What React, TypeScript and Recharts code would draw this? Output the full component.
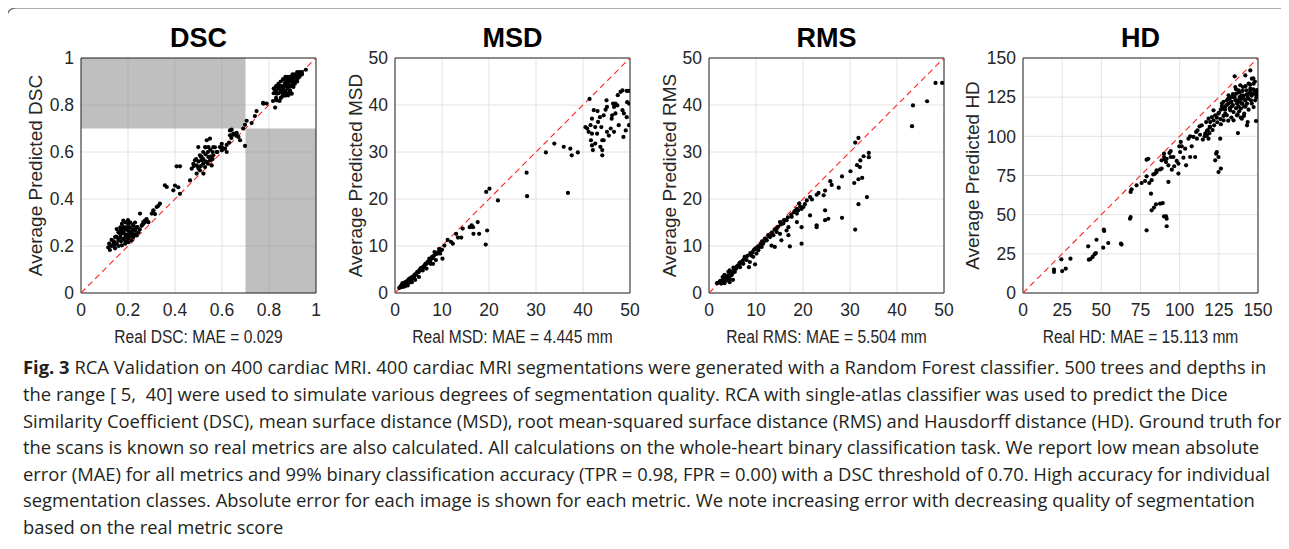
import React from "react";
import {
  CartesianGrid,
  ReferenceArea,
  Scatter,
  ScatterChart,
  XAxis,
  YAxis,
} from "recharts";

type Pt = [number, number];

// [real, average predicted]
const DSC_POINTS: Pt[] = [
  [0.957, 0.95], [0.776, 0.806], [0.79, 0.806], [0.826, 0.789], [0.833, 0.82], [0.854, 0.834],
  [0.826, 0.862], [0.847, 0.877], [0.868, 0.891], [0.875, 0.905], [0.889, 0.912], [0.904, 0.919],
  [0.925, 0.926], [0.939, 0.933], [0.889, 0.862], [0.904, 0.877], [0.868, 0.855], [0.882, 0.841],
  [0.897, 0.848], [0.854, 0.855], [0.833, 0.848], [0.86, 0.843], [0.889, 0.85], [0.817, 0.817],
  [0.845, 0.817], [0.775, 0.809], [0.747, 0.774], [0.74, 0.753], [0.726, 0.723], [0.705, 0.733],
  [0.698, 0.716], [0.69, 0.7], [0.662, 0.681], [0.648, 0.674], [0.641, 0.695], [0.698, 0.626],
  [0.83, 0.86], [0.84, 0.87], [0.85, 0.86], [0.86, 0.88], [0.86, 0.87], [0.87, 0.88], [0.87, 0.9],
  [0.88, 0.89], [0.88, 0.91], [0.89, 0.9], [0.89, 0.92], [0.9, 0.91], [0.9, 0.9], [0.91, 0.92],
  [0.91, 0.9], [0.92, 0.92], [0.92, 0.91], [0.93, 0.92], [0.93, 0.94], [0.94, 0.93], [0.9, 0.93],
  [0.88, 0.92], [0.87, 0.86], [0.85, 0.88], [0.84, 0.85], [0.86, 0.85], [0.88, 0.87], [0.89, 0.88],
  [0.91, 0.93], [0.92, 0.94], [0.9, 0.89], [0.87, 0.84], [0.88, 0.85], [0.86, 0.84], [0.85, 0.83],
  [0.91, 0.89], [0.89, 0.86], [0.9, 0.88], [0.84, 0.89], [0.83, 0.88], [0.82, 0.87], [0.85, 0.9],
  [0.86, 0.91], [0.87, 0.92], [0.93, 0.93], [0.94, 0.94], [0.92, 0.9], [0.83, 0.83], [0.82, 0.85],
  [0.88, 0.88],
  [0.499, 0.621], [0.506, 0.586], [0.52, 0.6], [0.535, 0.65], [0.549, 0.657], [0.542, 0.621],
  [0.513, 0.565], [0.492, 0.543], [0.478, 0.55], [0.471, 0.529], [0.464, 0.479], [0.506, 0.522],
  [0.528, 0.536], [0.535, 0.557], [0.549, 0.565], [0.563, 0.586], [0.556, 0.543], [0.521, 0.508],
  [0.542, 0.579], [0.513, 0.579], [0.499, 0.536], [0.492, 0.508], [0.577, 0.6], [0.591, 0.621],
  [0.599, 0.635], [0.613, 0.614], [0.62, 0.6], [0.634, 0.671], [0.648, 0.678], [0.662, 0.678],
  [0.67, 0.664], [0.634, 0.692], [0.677, 0.65], [0.599, 0.607], [0.563, 0.621], [0.528, 0.621],
  [0.485, 0.565], [0.5, 0.56], [0.51, 0.58], [0.52, 0.57], [0.53, 0.59], [0.53, 0.56], [0.54, 0.6],
  [0.55, 0.58], [0.55, 0.61], [0.56, 0.6], [0.57, 0.62], [0.52, 0.55], [0.51, 0.54], [0.5, 0.53],
  [0.54, 0.55], [0.56, 0.57], [0.58, 0.6], [0.6, 0.62], [0.62, 0.63], [0.63, 0.64], [0.64, 0.66],
  [0.66, 0.67], [0.48, 0.54], [0.49, 0.57], [0.53, 0.62],
  [0.407, 0.539], [0.421, 0.539], [0.393, 0.437], [0.4, 0.457], [0.414, 0.45], [0.421, 0.422],
  [0.357, 0.458], [0.365, 0.451], [0.336, 0.38], [0.322, 0.366], [0.301, 0.338], [0.308, 0.352],
  [0.251, 0.338], [0.279, 0.309], [0.287, 0.302], [0.265, 0.302], [0.329, 0.371], [0.315, 0.336],
  [0.308, 0.35],
  [0.116, 0.194], [0.123, 0.183], [0.13, 0.226], [0.145, 0.238], [0.152, 0.21], [0.16, 0.258],
  [0.167, 0.279], [0.174, 0.294], [0.181, 0.272], [0.188, 0.25], [0.181, 0.23], [0.167, 0.238],
  [0.16, 0.224], [0.194, 0.238], [0.201, 0.265], [0.208, 0.279], [0.215, 0.258], [0.223, 0.286],
  [0.23, 0.265], [0.237, 0.279], [0.244, 0.258], [0.194, 0.301], [0.18, 0.308], [0.272, 0.308],
  [0.286, 0.301], [0.265, 0.294], [0.279, 0.315], [0.215, 0.224], [0.201, 0.216], [0.188, 0.21],
  [0.174, 0.203], [0.145, 0.19], [0.138, 0.21], [0.223, 0.238], [0.167, 0.252], [0.174, 0.258],
  [0.208, 0.245], [0.188, 0.279], [0.201, 0.294], [0.152, 0.272], [0.237, 0.245], [0.258, 0.286],
  [0.14, 0.22], [0.15, 0.24], [0.16, 0.23], [0.16, 0.26], [0.17, 0.22], [0.17, 0.25], [0.18, 0.23],
  [0.18, 0.26], [0.18, 0.28], [0.19, 0.24], [0.19, 0.22], [0.19, 0.27], [0.2, 0.25], [0.2, 0.23],
  [0.2, 0.28], [0.21, 0.26], [0.21, 0.24], [0.22, 0.27], [0.22, 0.25], [0.23, 0.27], [0.23, 0.25],
  [0.24, 0.28], [0.25, 0.27], [0.26, 0.29], [0.17, 0.27], [0.15, 0.21], [0.16, 0.2], [0.14, 0.2],
  [0.13, 0.2], [0.12, 0.21], [0.21, 0.3], [0.22, 0.29], [0.19, 0.3], [0.2, 0.31], [0.23, 0.3],
  [0.27, 0.3],
];

const MSD_POINTS: Pt[] = [
  [41.4, 41.3], [40.5, 35.3], [40.9, 35], [41.2, 34.3], [41.6, 35.7], [41.9, 37.1], [42.3, 38.9],
  [41.7, 32.5], [41.9, 31.4], [42.6, 31.8], [42.1, 30.4], [43, 33.9], [43.1, 38.7], [43.6, 37.4],
  [43.9, 35.3], [44.1, 32.5], [43.7, 31.1], [44.4, 37.8], [44.8, 39], [45, 41], [45.1, 39.6],
  [44.1, 29.3], [44.1, 30.4], [45.5, 33.5], [45.9, 35], [46.2, 37.8], [46.4, 40.3], [46.6, 39.6],
  [46.9, 38.2], [46.1, 37.1], [46.9, 40.3], [47.3, 39.9], [47.4, 42.1], [48, 42.8], [48.4, 43.1],
  [48.4, 38.9], [48.7, 38.2], [48.6, 33.2], [47.6, 35.7], [49.1, 34.6], [49.3, 37.4], [49.4, 40.6],
  [49.3, 43], [49.8, 43], [49.8, 40.3], [49.8, 35.7], [45.1, 34.3], [46.6, 34.3], [44.4, 32.5],
  [43.2, 36.4], [42.6, 35.3], [41.9, 33.9],
  [33.9, 31.8], [32.1, 29.9], [35.9, 31.1], [37.3, 30.7], [37.6, 29.3], [38.9, 29.9], [36.8, 21.3],
  [28, 25.6], [28.1, 20.6], [19.4, 21.5], [20.1, 22.2], [21.9, 19.7], [19.6, 13.3], [19.3, 10.3],
  [17.6, 15.1], [16.6, 14], [16.3, 14.4], [15.9, 14], [16.7, 12.6], [17.9, 12.6], [14.4, 13.7],
  [13, 12.6], [13.4, 11.8], [14.1, 11.8], [11.9, 10.9], [11.2, 11.3], [12.3, 10.5], [10.5, 10.1],
  [10, 9.2], [10.1, 7.3], [9.4, 9.4], [9.6, 8.4], [8.4, 8.7], [7.9, 7.7], [8.1, 6.2], [7.3, 7.3],
  [6.6, 6.2], [6.2, 5.5], [5.5, 5.2], [5.1, 4.7], [4.4, 4.1], [3.7, 3.4], [3, 2.7], [2.3, 2.1],
  [1.6, 1.6], [1.2, 1.4], [1.9, 2], [2.6, 2.3], [3.1, 3], [4.1, 3.5], [4.8, 4.5], [5.9, 4.8],
  [6.7, 5.2], [7.6, 6.2], [8.7, 7], [0.9, 1.1], [1.4, 1.3], [2.1, 1.4], [2.7, 1.6], [3.6, 2.3],
  [4.3, 2.8], [5.1, 3.4], [1.6, 2.1],
  [1.3, 1.5], [1.5, 1.8], [1.7, 1.5], [1.8, 2], [2, 1.7], [2.2, 2.3], [2.4, 1.9], [2.5, 2.5],
  [2.8, 2.6], [3, 2.2], [3.2, 3.1], [3.4, 2.8], [3.6, 3.4], [3.9, 3.2], [4.1, 3.8], [4.5, 3.9],
  [4.7, 4.4], [5, 4.4], [5.3, 5], [5.6, 4.9], [6, 5.6], [6.3, 5.9], [6.8, 6.3], [7, 6.7], [7.5, 6.9],
  [8, 7.4], [8.3, 7.9], [8.9, 8.3], [9.2, 8.7], [9.8, 9.1], [1.1, 1.2], [1.6, 1.3], [2.1, 1.9],
  [2.9, 2.9], [3.3, 2.5], [2.6, 2.1], [1.9, 1.6], [4, 3.4], [5.5, 5.3], [6.5, 6.2],
];

const RMS_POINTS: Pt[] = [
  [49.6, 44.7], [48.2, 44.7], [46.4, 40.8], [43.4, 39.9], [43.2, 35.5], [34, 29.8], [34, 28.9],
  [32.9, 29.1], [32.2, 28.2], [31.8, 33], [31.1, 32], [31.5, 27.2], [32.1, 26.8], [32.6, 24.5],
  [31.8, 24.2], [30.9, 23.4], [30.1, 25.9], [28.3, 24.8], [27.6, 22.4], [26.1, 23], [25.8, 23.8],
  [24.7, 21.8], [24.4, 20.8], [23.3, 21.3], [22.9, 20.9], [21.5, 20.4], [21.9, 19.9], [20.8, 19.7],
  [20.1, 18.3], [19.7, 17.9], [19, 17.6], [18.7, 16.9], [19.2, 19.1], [31.8, 18.9], [33.6, 20.4],
  [31.1, 13.5], [28.3, 16], [25.4, 15.8], [24.7, 17.6], [24.7, 15.5], [22.9, 14.4], [22.9, 14],
  [21.5, 16.5], [19.7, 10.5], [19.7, 14], [18.7, 15.1], [17.2, 9.9], [16.9, 12.3], [16.5, 13.3],
  [16.9, 14], [15.8, 14.8], [16.5, 15.5], [15.4, 11.2], [14, 9.8], [13.3, 10.1], [15.1, 12.6],
  [14.4, 13], [13.7, 12.3], [13, 11.9], [12.3, 11.2], [11.5, 10.5], [10.8, 9.8], [10.1, 9.4],
  [9.8, 6.1], [8.5, 5.5], [8.7, 6.6], [8, 7], [7.3, 6.2], [6.6, 5.5], [5.8, 5.2], [5.1, 4.5],
  [4.4, 4.1], [3.7, 3.4], [3, 2.7], [2.3, 2.3], [1.7, 2.1], [3.7, 2.7], [4.4, 3], [4.8, 3.8],
  [5.5, 4.5], [4.1, 4.5], [3.3, 3.8], [6.6, 6.2], [7.6, 7.7], [9, 8], [10.5, 9.1], [11.2, 9.8],
  [11.9, 11.6], [12.6, 12.3], [13.3, 12.6], [14.4, 13.7], [15.1, 15.1], [16, 15.5], [17.6, 16.2],
  [18.1, 17.2], [18.7, 17.9], [19.4, 18.4], [20.4, 18.9], [10.1, 8.4], [9.4, 7.7], [2.6, 2],
  [3.3, 2.1], [5.1, 2.8], [4.4, 2.3],
  [2, 2.2], [2.4, 2.6], [2.8, 2.5], [3.1, 3.3], [3.5, 3], [3.9, 3.6], [4.2, 3.3], [4.6, 4.4],
  [5, 4.2], [5.4, 5.1], [5.9, 5.6], [6.2, 5.9], [6.8, 6.6], [7.2, 6.9], [7.7, 7.4], [8.2, 7.9],
  [8.8, 8.5], [9.3, 8.7], [9.9, 9.5], [10.4, 9.9], [11, 10.4], [11.6, 10.8], [12.1, 11.5],
  [12.8, 12.1], [13.4, 12.9], [14, 13.5], [14.7, 14.1], [15.3, 14.6], [16.1, 15.4], [16.8, 16.1],
  [17.5, 16.7], [18.3, 17.5], [2.9, 3.4], [3.3, 3.8], [4.4, 4.8], [5.2, 5.4], [6.5, 6.4],
  [7.5, 7.2], [9.6, 9.2], [11.3, 11],
];

const HD_POINTS: Pt[] = [
  [19.8, 14.9], [19.8, 13.4], [24.5, 21.5], [25, 14], [27.3, 15.5], [30.3, 21.9], [41.6, 29.8],
  [42, 21.3], [43.1, 21.7], [44.4, 23], [45.7, 24.7], [46.9, 34], [46.5, 25.5], [51.2, 28.9],
  [51.8, 39.6], [51.6, 40.4], [54.4, 31.9], [62.5, 31.5], [62.9, 30.9], [68.3, 47.4], [68.7, 48.5],
  [68.7, 64.5], [69.3, 66.2], [78.9, 40], [78.9, 85.1], [80, 85.7], [72.5, 68.7], [75.7, 70.2],
  [77.9, 71.5], [78.9, 74.5], [80.6, 70.2], [81.7, 63.4], [82.1, 72], [83.2, 75.7], [84.3, 76.2],
  [85.3, 77.2], [87.5, 78.9], [88.5, 79.4], [90, 86.8], [91.7, 85.7], [91.3, 83.6], [92.8, 81.5],
  [92.8, 70.9], [94.3, 90.6], [94.3, 86.8], [95, 78.7], [96.5, 80.9], [98.1, 84.3], [99.2, 76.2],
  [99.8, 93.6], [100.7, 96.4], [101.3, 93.6], [102.4, 86.4], [104.1, 81.5], [105.6, 98.5],
  [106.7, 100], [106.7, 86.8], [107.7, 93.6], [109.9, 86.8], [110.5, 102.8], [111.4, 103.8],
  [112.7, 106.4], [114.1, 107], [114.8, 97.9], [116.3, 101.7], [117.3, 103.4], [119.1, 106],
  [119.5, 109.1], [121.6, 110.2], [122.7, 113.4], [123.7, 111.9], [124.8, 114.5], [126.3, 107.7],
  [126.3, 117], [128, 117.7], [129.1, 119.1], [130.1, 123], [131.2, 120.9], [131.9, 124],
  [132.7, 121.9], [133.3, 119.1], [134, 125.1], [134.4, 115.5], [135.1, 138.3], [135.5, 123],
  [136.1, 127.2], [136.6, 120.9], [137.2, 102.1], [137.6, 129.4], [138.3, 125.1], [138.7, 121.9],
  [139.1, 117.7], [139.7, 126.2], [140.4, 131.5], [140.8, 124], [141.2, 114.5], [141.9, 138.9],
  [142.5, 129.4], [143, 120.9], [143, 107], [143.4, 109.1], [144, 133.6], [144.7, 127.2],
  [145.1, 142.1], [145.5, 123], [146.1, 136.8], [146.8, 127.2], [147.2, 118.7], [147.9, 127.2],
  [149, 129.4], [149.4, 126.2], [148.7, 109.8], [125.9, 98.5], [123.7, 90], [124.8, 86.8],
  [122.7, 84.7], [124.8, 77.2], [126.3, 79.4], [123.3, 88.9], [119.5, 106], [118.4, 98.5],
  [117.3, 100.6], [111, 98.5], [108.8, 99.6], [103.5, 92.1], [100.3, 90], [99.2, 82.6], [96, 86.8],
  [93.5, 89.4], [90, 88.9], [90.6, 85.1], [88.5, 84.7], [85.3, 78.3], [87.5, 57], [89.2, 57.4],
  [90, 48.9], [91.3, 48.9], [91.7, 42.6], [84.9, 56.6], [82.1, 52.8], [83.6, 54.5], [91.7, 47.4],
  [128, 110.2], [130.1, 113.4], [129.1, 114.5], [132.3, 116.6], [136.6, 113.4], [139.7, 111.3],
  [134.4, 110.2], [137.6, 119.1], [141.2, 119.1], [143.4, 125.1], [145.1, 130.4], [147.2, 133.6],
  [148.2, 123], [149.4, 129.4], [141.9, 123], [139.7, 120.9], [133.3, 125.1], [131.2, 126.2],
  [135.5, 131.5], [138.7, 132.6], [120.6, 112.3], [118.4, 111.3], [116.9, 109.1], [121.6, 116.6],
  [127, 120.9],
  [125, 115], [127, 119], [128, 122], [129, 117], [130, 120], [131, 124], [132, 118], [133, 122],
  [134, 127], [134, 120], [135, 125], [136, 118], [136, 130], [137, 123], [138, 128], [138, 116],
  [139, 124], [140, 129], [140, 121], [141, 126], [142, 132], [142, 119], [143, 127], [144, 124],
  [145, 129], [145, 133], [146, 126], [147, 130], [148, 128], [149, 125], [146, 121], [144, 117],
  [141, 113], [139, 112], [137, 114], [133, 112], [131, 110], [128, 113], [126, 111], [124, 109],
  [122, 107], [121, 104], [119, 102], [118, 104], [116, 100], [113, 101], [150, 128], [150, 127],
  [148, 135], [147, 137],
];

const POINTS = [DSC_POINTS, MSD_POINTS, RMS_POINTS, HD_POINTS];
const TITLES = ["DSC", "MSD", "RMS", "HD"];
const Y_LABELS = [
  "Average Predicted DSC",
  "Average Predicted MSD",
  "Average Predicted RMS",
  "Average Predicted HD",
];
const X_LABELS = [
  "Real DSC: MAE = 0.029",
  "Real MSD: MAE = 4.445 mm",
  "Real RMS: MAE = 5.504 mm",
  "Real HD: MAE = 15.113 mm",
];
const AXIS_MAX = [1, 50, 50, 150];
const DSC_TICKS = [0, 0.2, 0.4, 0.6, 0.8, 1];
const MM_TICKS = [0, 10, 20, 30, 40, 50];
const HD_TICKS = [0, 25, 50, 75, 100, 125, 150];
const AXIS_TICKS = [DSC_TICKS, MM_TICKS, MM_TICKS, HD_TICKS];
const DSC_THRESHOLD = 0.7;

const CAPTION_LINES = [
  "RCA Validation on 400 cardiac MRI. 400 cardiac MRI segmentations were generated with a Random Forest classifier. 500 trees and depths in",
  "the range [ 5,  40] were used to simulate various degrees of segmentation quality. RCA with single-atlas classifier was used to predict the Dice",
  "Similarity Coefficient (DSC), mean surface distance (MSD), root mean-squared surface distance (RMS) and Hausdorff distance (HD). Ground truth for",
  "the scans is known so real metrics are also calculated. All calculations on the whole-heart binary classification task. We report low mean absolute",
  "error (MAE) for all metrics and 99% binary classification accuracy (TPR = 0.98, FPR = 0.00) with a DSC threshold of 0.70. High accuracy for individual",
  "segmentation classes. Absolute error for each image is shown for each metric. We note increasing error with decreasing quality of segmentation",
  "based on the real metric score",
];

// layout (px)
const PANEL_STEP = 314;
const PLOT_TOP = 58;
const PLOT_SIZE = 235;
const Y_AXIS_W = 81;
const CHART_W = 340;
const CHART_H = 349;
const Y_LABEL_GAP = [46, 40, 40, 51];

const AXIS_FONT = "'Liberation Sans', Arial, Helvetica, sans-serif";
const CAPTION_FONT = "'Open Sans', 'Noto Sans', sans-serif";
const INK = "#262626";

const dot = (props: any) => <circle cx={props.cx} cy={props.cy} r={2.1} fill="#000" />;
const noDot = () => <g />;

function Panel({ index }: { index: number }) {
  const max = AXIS_MAX[index];
  const ticks = AXIS_TICKS[index];
  const data = POINTS[index].map(([x, y]) => ({ x, y }));
  const diagonal = [
    { x: 0, y: 0 },
    { x: max, y: max },
  ];
  const tickStyle = { fill: INK, fontSize: 17.5 };

  return (
    <div style={{ position: "absolute", left: index * PANEL_STEP, top: 0 }}>
      <ScatterChart
        width={CHART_W}
        height={CHART_H}
        margin={{ top: PLOT_TOP, right: CHART_W - Y_AXIS_W - PLOT_SIZE, bottom: 0, left: 0 }}
      >
        <CartesianGrid stroke="#e2e2e2" />
        {index === 0 && (
          <ReferenceArea
            x1={0}
            x2={DSC_THRESHOLD}
            y1={DSC_THRESHOLD}
            y2={1}
            fill="#808080"
            fillOpacity={0.5}
            stroke="none"
          />
        )}
        {index === 0 && (
          <ReferenceArea
            x1={DSC_THRESHOLD}
            x2={1}
            y1={0}
            y2={DSC_THRESHOLD}
            fill="#808080"
            fillOpacity={0.5}
            stroke="none"
          />
        )}
        <XAxis
          type="number"
          dataKey="x"
          domain={[0, max]}
          ticks={ticks}
          interval={0}
          allowDataOverflow
          height={CHART_H - PLOT_TOP - PLOT_SIZE}
          axisLine={false}
          tickLine={false}
          tickMargin={5}
          tick={tickStyle}
        />
        <YAxis
          type="number"
          dataKey="y"
          domain={[0, max]}
          ticks={ticks}
          interval={0}
          allowDataOverflow
          width={Y_AXIS_W}
          axisLine={false}
          tickLine={false}
          tickMargin={1}
          tick={tickStyle}
        />
        <ReferenceArea x1={0} x2={max} y1={0} y2={max} fill="none" stroke={INK} strokeWidth={1} />
        <Scatter
          data={diagonal}
          line={{ stroke: "#ff1f1f", strokeWidth: 1.1, strokeDasharray: "6 4" }}
          shape={noDot}
          isAnimationActive={false}
        />
        <Scatter data={data} fill="#000" shape={dot} isAnimationActive={false} />
      </ScatterChart>
    </div>
  );
}

export default function App() {
  return (
    <div
      style={{
        position: "relative",
        width: 1289,
        height: 549,
        margin: -8,
        background: "#fff",
        overflow: "hidden",
        fontFamily: AXIS_FONT,
      }}
    >
      {TITLES.map((_, i) => (
        <Panel key={i} index={i} />
      ))}
      <svg
        width={1289}
        height={549}
        style={{ position: "absolute", left: 0, top: 0, pointerEvents: "none" }}
      >
        <path d="M 7 549 L 7 18 Q 7 8 17 8 L 1289 8" fill="none" stroke="#5a5a5a" strokeWidth={1.2} />
        {TITLES.map((title, i) => {
          const left = i * PANEL_STEP + Y_AXIS_W;
          const cx = left + PLOT_SIZE / 2;
          const cy = PLOT_TOP + PLOT_SIZE / 2;
          const lx = left - Y_LABEL_GAP[i];
          return (
            <g key={title} fontFamily={AXIS_FONT}>
              <text x={cx} y={47} textAnchor="middle" fontSize={27} fontWeight="bold" fill="#000">
                {title}
              </text>
              <text
                x={lx}
                y={cy}
                dy="0.35em"
                textAnchor="middle"
                fontSize={19}
                fill={INK}
                transform={`rotate(-90 ${lx} ${cy})`}
              >
                {Y_LABELS[i]}
              </text>
              <text
                transform={`translate(${cx} 343) scale(0.82 1)`}
                textAnchor="middle"
                fontSize={19}
                fill={INK}
              >
                {X_LABELS[i]}
              </text>
            </g>
          );
        })}
        <g transform="translate(23 0) scale(0.995 1)" fontFamily={CAPTION_FONT} fontSize={18.5} fill="#231f20">
          {CAPTION_LINES.map((line, i) => (
            <text key={i} x={0} y={374.5 + i * 26.6} xmlSpace="preserve">
              {i === 0 && <tspan fontWeight="bold">Fig. 3 </tspan>}
              {line}
            </text>
          ))}
        </g>
      </svg>
    </div>
  );
}
